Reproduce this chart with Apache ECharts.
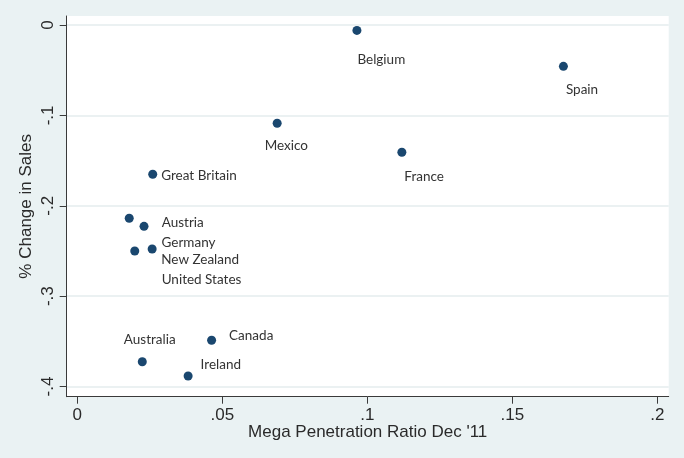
<!DOCTYPE html>
<html>
<head>
<meta charset="utf-8">
<script src="https://cdn.jsdelivr.net/npm/echarts@6/dist/echarts.min.js"></script>
<style>
  html, body { margin: 0; padding: 0; background: #eaf2f3; }
  #chart { width: 684px; height: 458px; }
</style>
</head>
<body>
<div id="chart"></div>
<script>
// values
const countries = ['Belgium', 'Spain', 'Mexico', 'France', 'Great Britain', 'Austria',
  'Germany', 'New Zealand', 'United States', 'Canada', 'Australia', 'Ireland'];
const penetration = [0.0964, 0.1676, 0.0689, 0.1119, 0.0260, 0.0179,
  0.0230, 0.0198, 0.0258, 0.0463, 0.0224, 0.0382];
const salesChange = [-0.0060, -0.0457, -0.1087, -0.1408, -0.1651, -0.2138,
  -0.2227, -0.2500, -0.2478, -0.3488, -0.3725, -0.3883];
const xTicks = [0, 0.05, 0.1, 0.15, 0.2];
const yTicks = [-0.4, -0.3, -0.2, -0.1, 0];

// where each marker label sits, relative to its dot
const labelOffset = {
  'Belgium': [-4, 29],
  'Spain': [-2, 23],
  'Mexico': [-17, 22],
  'France': [-2, 24],
  'Great Britain': [4, 1],
  'Austria': [28, 4],
  'Germany': [13, 16],
  'New Zealand': [22, 9],
  'United States': [5, 31],
  'Canada': [13, -5],
  'Australia': [-23, -22],
  'Ireland': [8, -11]
};

// stata style tick text: .05, -.1
const fmt = v => (v === 0 ? '0' : String(v).replace('0.', '.'));

const points = countries.map((c, i) => ({
  name: c,
  value: [penetration[i], salesChange[i]],
  label: { offset: labelOffset[c] }
}));

const axisColor = '#3a3a3a';
const gridColor = '#e4ecee';

const chart = echarts.init(document.getElementById('chart'));
chart.setOption({
  backgroundColor: '#eaf2f3',
  animation: false,
  grid: {
    left: 66.7, right: 15.3, top: 16, bottom: 61.3,
    show: true, backgroundColor: '#ffffff', borderWidth: 0
  },
  xAxis: {
    type: 'value',
    min: -0.00366,
    max: 0.2039,
    name: 'Mega Penetration Ratio Dec \'11',
    nameLocation: 'middle',
    nameGap: 27,
    nameMoveOverlap: false,
    nameTextStyle: { fontFamily: 'Liberation Sans', fontSize: 17, color: '#2a2a2a' },
    axisLine: { onZero: false, lineStyle: { color: axisColor, width: 1 } },
    axisTick: { customValues: xTicks, length: 7, lineStyle: { color: axisColor } },
    axisLabel: {
      customValues: xTicks,
      formatter: fmt,
      margin: 10,
      fontFamily: 'Liberation Sans',
      fontSize: 17,
      color: '#2a2a2a'
    },
    splitLine: { show: false }
  },
  yAxis: {
    type: 'value',
    min: -0.4112,
    max: 0.00996,
    name: '% Change in Sales',
    nameLocation: 'middle',
    nameGap: 32,
    nameMoveOverlap: false,
    nameTextStyle: { fontFamily: 'Liberation Sans', fontSize: 17, color: '#2a2a2a' },
    axisLine: { show: true, onZero: false, lineStyle: { color: axisColor, width: 1 } },
    axisTick: { show: true, customValues: yTicks, length: 7, lineStyle: { color: axisColor } },
    axisLabel: {
      customValues: yTicks,
      formatter: fmt,
      rotate: 90,
      margin: 10,
      fontFamily: 'Liberation Sans',
      fontSize: 17,
      color: '#2a2a2a'
    },
    splitLine: { show: true, lineStyle: { color: gridColor, width: 1.5 } }
  },
  series: [{
    type: 'scatter',
    symbolSize: 9,
    itemStyle: { color: '#1a476f', opacity: 1 },
    label: {
      show: true,
      position: 'right',
      distance: 0,
      formatter: '{b}',
      fontFamily: 'Lato',
      fontSize: 13.5,
      color: '#333333'
    },
    data: points
  }]
});
</script>
</body>
</html>
